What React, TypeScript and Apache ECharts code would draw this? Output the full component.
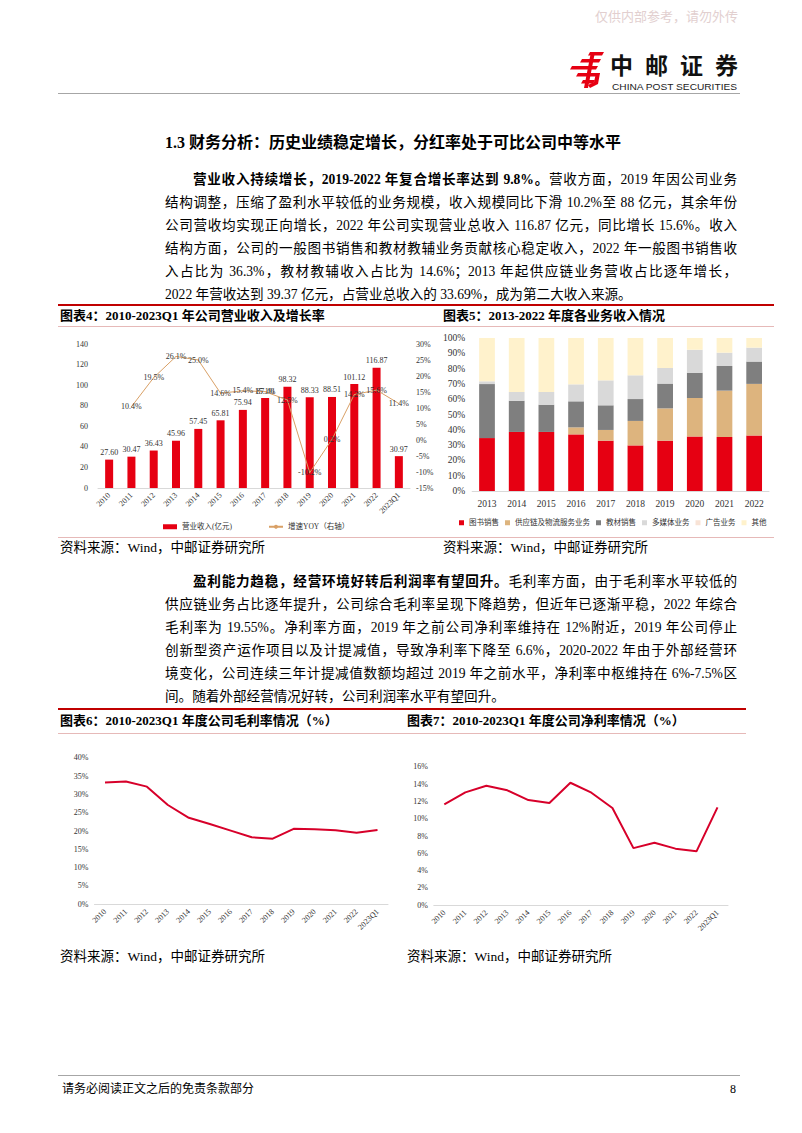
import React, { useEffect, useRef } from "react";
import * as echarts from "echarts";

const SERIF = '"Liberation Serif", "Noto Sans CJK SC", serif';

// ---------- Data ----------
const revenueYears = ["2010", "2011", "2012", "2013", "2014", "2015", "2016", "2017", "2018", "2019", "2020", "2021", "2022", "2023Q1"];
const revenue = [27.6, 30.47, 36.43, 45.96, 57.45, 65.81, 75.94, 87.4, 98.32, 88.33, 88.51, 101.12, 116.87, 30.97];
const revenueYoY = [null, 10.4, 19.5, 26.1, 25.0, 14.6, 15.4, 15.1, 12.5, -10.2, 0.2, 14.2, 15.6, 11.4];

const mixYears = ["2013", "2014", "2015", "2016", "2017", "2018", "2019", "2020", "2021", "2022"];
const bookSales = [34.6, 38.6, 38.6, 37.0, 32.9, 29.8, 32.9, 35.7, 35.3, 36.3];
const supplyChain = [0, 0, 0, 4.6, 7.0, 16.0, 21.1, 25.1, 30.3, 33.7];
const textbookSales = [35.3, 20.4, 17.8, 17.0, 16.1, 14.3, 16.2, 16.5, 16.1, 14.6];
const multimedia = [1.8, 5.7, 8.3, 11.1, 16.3, 15.5, 10.2, 15.1, 8.7, 9.1];
const advertising = [0, 0, 0, 0, 0, 0, 0, 0, 0, 0];
const others = [28.3, 35.3, 35.3, 30.3, 27.7, 24.4, 19.6, 7.6, 9.6, 6.3];

const marginYears = ["2010", "2011", "2012", "2013", "2014", "2015", "2016", "2017", "2018", "2019", "2020", "2021", "2022", "2023Q1"];
const grossMargin = [33.2, 33.5, 32.1, 27.1, 23.6, 21.9, 20.1, 18.3, 17.9, 20.6, 20.5, 20.2, 19.55, 20.3];
const netMargin = [11.65, 13.04, 13.8, 13.27, 12.15, 11.8, 14.15, 13.0, 11.23, 6.6, 7.23, 6.54, 6.23, 11.31];

// ---------- Chart helper ----------
function Chart({ option, style }: { option: any; style: React.CSSProperties }) {
  const ref = useRef<HTMLDivElement>(null);
  useEffect(() => {
    const c = echarts.init(ref.current!, undefined, { renderer: "svg" });
    c.setOption(option);
    return () => c.dispose();
  }, []);
  return <div ref={ref} style={{ position: "absolute", ...style }} />;
}

const axisGray = "#D9D9D9";
const labelColor = "#333";

const revenueOption = {
  animation: false,
  textStyle: { fontFamily: SERIF },
  grid: { left: 40, right: 28, top: 16, bottom: 48 },
  legend: {
    left: 100,
    top: 190,
    itemGap: 36,
    itemWidth: 14,
    itemHeight: 5,
    textStyle: { fontSize: 7.5, color: labelColor, fontFamily: SERIF },
    data: [{ name: "营业收入(亿元)", icon: "rect" }, { name: "增速YOY（右轴）" }],
  },
  xAxis: {
    type: "category",
    data: revenueYears,
    axisTick: { show: false },
    axisLine: { lineStyle: { color: axisGray } },
    axisLabel: { rotate: 45, fontSize: 8, color: labelColor, interval: 0, margin: 6 },
  },
  yAxis: [
    {
      type: "value", min: 0, max: 140, interval: 20,
      splitLine: { show: false }, axisLine: { show: false }, axisTick: { show: false },
      axisLabel: { fontSize: 8, color: labelColor, margin: 10 },
    },
    {
      type: "value", min: -15, max: 30, interval: 5,
      splitLine: { show: false }, axisLine: { show: false }, axisTick: { show: false },
      axisLabel: { fontSize: 8, color: labelColor, formatter: "{value}%", margin: 6 },
    },
  ],
  series: [
    {
      name: "营业收入(亿元)", type: "bar", data: revenue, barWidth: 8,
      itemStyle: { color: "#E60012" },
      label: { show: true, position: "top", distance: 3, fontSize: 8, color: labelColor, formatter: (p: any) => p.value.toFixed(2) },
    },
    {
      name: "增速YOY（右轴）", type: "line", yAxisIndex: 1, data: revenueYoY,
      symbol: "circle", symbolSize: 1,
      lineStyle: { color: "#D9A066", width: 1 }, itemStyle: { color: "#D9A066" },
      label: { show: true, position: "inside", fontSize: 8, color: labelColor, formatter: (p: any) => p.value.toFixed(1) + "%" },
    },
  ],
};

const mixColors = ["#E60012", "#DDB47E", "#7F7F7F", "#D9D9D9", "#F8E3D6", "#FFF2CC"];
const mixNames = ["图书销售", "供应链及物流服务业务", "教材销售", "多媒体业务", "广告业务", "其他"];
const mixData = [bookSales, supplyChain, textbookSales, multimedia, advertising, others];

const mixOption = {
  animation: false,
  textStyle: { fontFamily: SERIF },
  grid: { left: 32, right: 6, top: 10, bottom: 45 },
  legend: {
    left: 14,
    right: 0,
    top: 186,
    icon: "rect",
    itemWidth: 5,
    itemHeight: 5,
    itemGap: 6,
    textStyle: { fontSize: 7.5, color: labelColor, fontFamily: SERIF },
    data: mixNames,
  },
  xAxis: {
    type: "category",
    data: mixYears,
    axisTick: { show: false },
    axisLine: { lineStyle: { color: axisGray } },
    axisLabel: { fontSize: 9.5, color: labelColor, margin: 8 },
  },
  yAxis: {
    type: "value", min: 0, max: 100, interval: 10,
    splitLine: { show: false }, axisLine: { show: false }, axisTick: { show: false },
    axisLabel: { fontSize: 9.5, color: labelColor, formatter: "{value}%", margin: 7 },
  },
  series: mixNames.map((n, i) => ({
    name: n, type: "bar", stack: "total", data: mixData[i], barWidth: "53%",
    itemStyle: { color: mixColors[i] },
  })),
};

function marginOption(data: number[], max: number, interval: number, grid: any) {
  return {
    animation: false,
    textStyle: { fontFamily: SERIF },
    grid,
    xAxis: {
      type: "category",
      data: marginYears,
      axisTick: { show: false },
      axisLine: { lineStyle: { color: axisGray } },
      axisLabel: { rotate: 45, fontSize: 8, color: labelColor, interval: 0, margin: 6 },
    },
    yAxis: {
      type: "value", min: 0, max, interval,
      splitLine: { show: false }, axisLine: { show: false }, axisTick: { show: false },
      axisLabel: { fontSize: 8, color: labelColor, formatter: "{value}%", margin: 6 },
    },
    series: [
      { type: "line", data, symbol: "none", lineStyle: { color: "#D7002A", width: 2 }, itemStyle: { color: "#D7002A" } },
    ],
  };
}

// ---------- Text helpers ----------
function TLine({ top, left = 165, width = 572, last = false, children, size = 13.6 }: any) {
  return (
    <div
      style={{
        position: "absolute", top: top - 10, left, width, height: 20, lineHeight: "20px",
        fontSize: size, fontFamily: SERIF, color: "#000",
        textAlign: last ? "left" : "justify", textAlignLast: last ? "left" : "justify",
        overflow: "visible",
      } as any}
    >
      {children}
    </div>
  );
}

function Txt({ top, left, size, bold = false, color = "#000", children, family = SERIF }: any) {
  return (
    <div style={{ position: "absolute", top: top - 10, left, height: 20, lineHeight: "20px", fontSize: size, fontWeight: bold ? 700 : 400, color, fontFamily: family, whiteSpace: "nowrap" }}>
      {children}
    </div>
  );
}

function HLine({ top, left, width, height = 1, color }: any) {
  return <div style={{ position: "absolute", top, left, width, height, background: color }} />;
}

export default function App() {
  const p1 = [
    <><b>营业收入持续增长，2019-2022 年复合增长率达到 9.8%。</b>营收方面，2019 年因公司业务</>,
    <>结构调整，压缩了盈利水平较低的业务规模，收入规模同比下滑 10.2%至 88 亿元，其余年份</>,
    <>公司营收均实现正向增长，2022 年公司实现营业总收入 116.87 亿元，同比增长 15.6%。收入</>,
    <>结构方面，公司的一般图书销售和教材教辅业务贡献核心稳定收入，2022 年一般图书销售收</>,
    <>入占比为 36.3%，教材教辅收入占比为 14.6%；2013 年起供应链业务营收占比逐年增长，</>,
    <>2022 年营收达到 39.37 亿元，占营业总收入的 33.69%，成为第二大收入来源。</>,
  ];
  const p2 = [
    <><b>盈利能力趋稳，经营环境好转后利润率有望回升。</b>毛利率方面，由于毛利率水平较低的</>,
    <>供应链业务占比逐年提升，公司综合毛利率呈现下降趋势，但近年已逐渐平稳，2022 年综合</>,
    <>毛利率为 19.55%。净利率方面，2019 年之前公司净利率维持在 12%附近，2019 年公司停止</>,
    <>创新型资产运作项目以及计提减值，导致净利率下降至 6.6%，2020-2022 年由于外部经营环</>,
    <>境变化，公司连续三年计提减值数额均超过 2019 年之前水平，净利率中枢维持在 6%-7.5%区</>,
    <>间。随着外部经营情况好转，公司利润率水平有望回升。</>,
  ];
  const p1Tops = [180, 203, 226, 249, 272, 295];
  const p2Tops = [582, 605, 628, 651, 674, 697];

  return (
    <div style={{ position: "absolute", left: 0, top: 0, width: 802, height: 1133, background: "#fff", overflow: "hidden" }}>
      {/* watermark */}
      <Txt top={16} left={595} size={13} color="#E2CFCF" family='"Noto Sans CJK SC", sans-serif'>仅供内部参考，请勿外传</Txt>

      {/* logo */}
      <svg style={{ position: "absolute", left: 560, top: 44, width: 190, height: 50 }} viewBox="560 44 190 50">
        <g fill="#E60012">
          <polygon points="590,52 604,52 602,55.5 588,55.5" />
          <polygon points="582,59 601,59 599,62.5 580,62.5" />
          <polygon points="572,66 598,66 596,69.5 570,69.5" />
          <polygon points="578,73 600,73 598,76.5 576,76.5" />
          <polygon points="583,80 595,80 593,83.5 581,83.5" />
          <polygon points="591,52 595,52 588,88 584,88" />
          <polygon points="596,73 600,73 598,84 590,88 588,85 594,82" />
        </g>
        <text x="610" y="74" fontSize="23" fontWeight="700" fontFamily='"Noto Sans CJK SC", sans-serif' textLength="128" lengthAdjust="spacing" fill="#111">中邮证券</text>
        <text x="612" y="90" fontSize="9" fontFamily='"Liberation Sans", Arial, sans-serif' textLength="125" lengthAdjust="spacingAndGlyphs" fill="#222">CHINA POST SECURITIES</text>
      </svg>
      <HLine top={93} left={58} width={682} color="#A6A6A6" />

      {/* section title */}
      <Txt top={143} left={165} size={16} bold>1.3 财务分析：历史业绩稳定增长，分红率处于可比公司中等水平</Txt>

      {p1.map((c, i) => (
        <TLine key={"a" + i} top={p1Tops[i]} left={i === 0 ? 193 : 165} width={i === 0 ? 544 : 572} last={i === p1.length - 1}>{c}</TLine>
      ))}

      {/* figure 4/5 header */}
      <HLine top={304} left={58} width={716} height={2} color="#C00000" />
      <Txt top={316} left={60} size={13} bold>图表4：2010-2023Q1 年公司营业收入及增长率</Txt>
      <Txt top={316} left={443} size={13} bold>图表5：2013-2022 年度各业务收入情况</Txt>
      <HLine top={326} left={58} width={716} color="#E6B9B8" />

      <Chart option={revenueOption} style={{ left: 58, top: 328, width: 380, height: 208 }} />
      <Chart option={mixOption} style={{ left: 440, top: 328, width: 335, height: 208 }} />
      <HLine top={537} left={58} width={716} color="#E6B9B8" />

      <Txt top={548} left={60} size={13.5}>资料来源：Wind，中邮证券研究所</Txt>
      <Txt top={548} left={443} size={13.5}>资料来源：Wind，中邮证券研究所</Txt>

      {p2.map((c, i) => (
        <TLine key={"b" + i} top={p2Tops[i]} left={i === 0 ? 193 : 165} width={i === 0 ? 544 : 572} last={i === p2.length - 1}>{c}</TLine>
      ))}

      {/* figure 6/7 header */}
      <HLine top={708} left={58} width={688} height={2} color="#C00000" />
      <Txt top={721} left={60} size={13} bold>图表6：2010-2023Q1 年度公司毛利率情况（%）</Txt>
      <Txt top={721} left={407} size={13} bold>图表7：2010-2023Q1 年度公司净利率情况（%）</Txt>
      <HLine top={733} left={58} width={688} color="#E6B9B8" />

      <Chart option={marginOption(grossMargin, 40, 5, { left: 36.5, right: 15, top: 17.7, bottom: 45.7 })} style={{ left: 58, top: 740, width: 345, height: 210 }} />
      <Chart option={marginOption(netMargin, 16, 2, { left: 28.8, right: 22, top: 26.7, bottom: 44.7 })} style={{ left: 405, top: 740, width: 345, height: 210 }} />

      <Txt top={957} left={60} size={13.5}>资料来源：Wind，中邮证券研究所</Txt>
      <Txt top={957} left={407} size={13.5}>资料来源：Wind，中邮证券研究所</Txt>

      {/* footer */}
      <HLine top={1075} left={58} width={682} color="#A6A6A6" />
      <Txt top={1089} left={62} size={12}>请务必阅读正文之后的免责条款部分</Txt>
      <Txt top={1089} left={730} size={12}>8</Txt>
    </div>
  );
}
